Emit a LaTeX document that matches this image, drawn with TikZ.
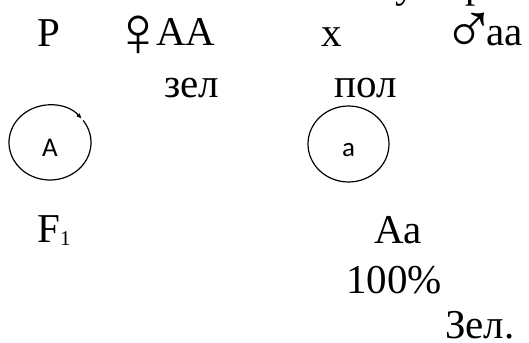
\documentclass[tikz,border=0pt]{standalone}
\usepackage{fontspec}
\setmainfont{Liberation Serif}
\setsansfont{Carlito}
\newfontfamily\symfont{Liberation Serif}
\usetikzlibrary{arrows.meta,shapes.geometric}

\begin{document}
\begin{tikzpicture}[
  x=1pt, y=1pt,
  font=\fontsize{41}{48}\selectfont,
  txt/.style={anchor=base west, inner sep=0pt, text depth=0pt},
  sex/.style={anchor=center, inner sep=0pt, font=\symfont\fontsize{72}{80}\selectfont},
  gam/.style={ellipse, minimum width=82pt, minimum height=75pt, inner sep=0pt,
    text height=27pt, text depth=0pt, font=\sffamily\fontsize{27}{32}\selectfont},
  ring/.style={line width=1.2pt}
]
\clip (0,0) rectangle (529,-342);
% cut-off line above
\node[txt] (cutu) at (395,2) {у};
\node[txt] (cutr) at (465,2) {р};
% Parents
\node[txt] (P) at (37,-47) {P};
\node[sex] (fem) at (138,-36.5) {♀};
\node[txt] (AA) at (156,-46) {AA};
\node[txt] (cross) at (321,-47) {x};
\node[sex] (male) at (469,-33) {♂};
\node[txt] (aa) at (486,-46) {aa};
\node[txt] (zel) at (164,-98) {зел};
\node[txt] (pol) at (334,-98) {пол};
% Gametes
\node[gam] (gA) at (50,-142.5) {A};
\draw[ring, -{Triangle[length=5pt,width=4pt]}] (gA.center) ++(36:41 and 37.5)
  arc[start angle=36, end angle=-320, x radius=41, y radius=37.5];
\node[gam, ring, draw, minimum width=81pt, minimum height=76pt, text height=25pt] (ga) at (348.5,-144) {a};
% F1
\node[txt] (F) at (37,-242) {F\raisebox{-3pt}{\fontsize{21}{22}\selectfont 1}};
\node[txt] (Aa) at (374,-243) {Aa};
\node[txt] (pct) at (346,-293) {100\%};
\node[txt] (Zel) at (445,-338) {Зел.};
\end{tikzpicture}
\end{document}
